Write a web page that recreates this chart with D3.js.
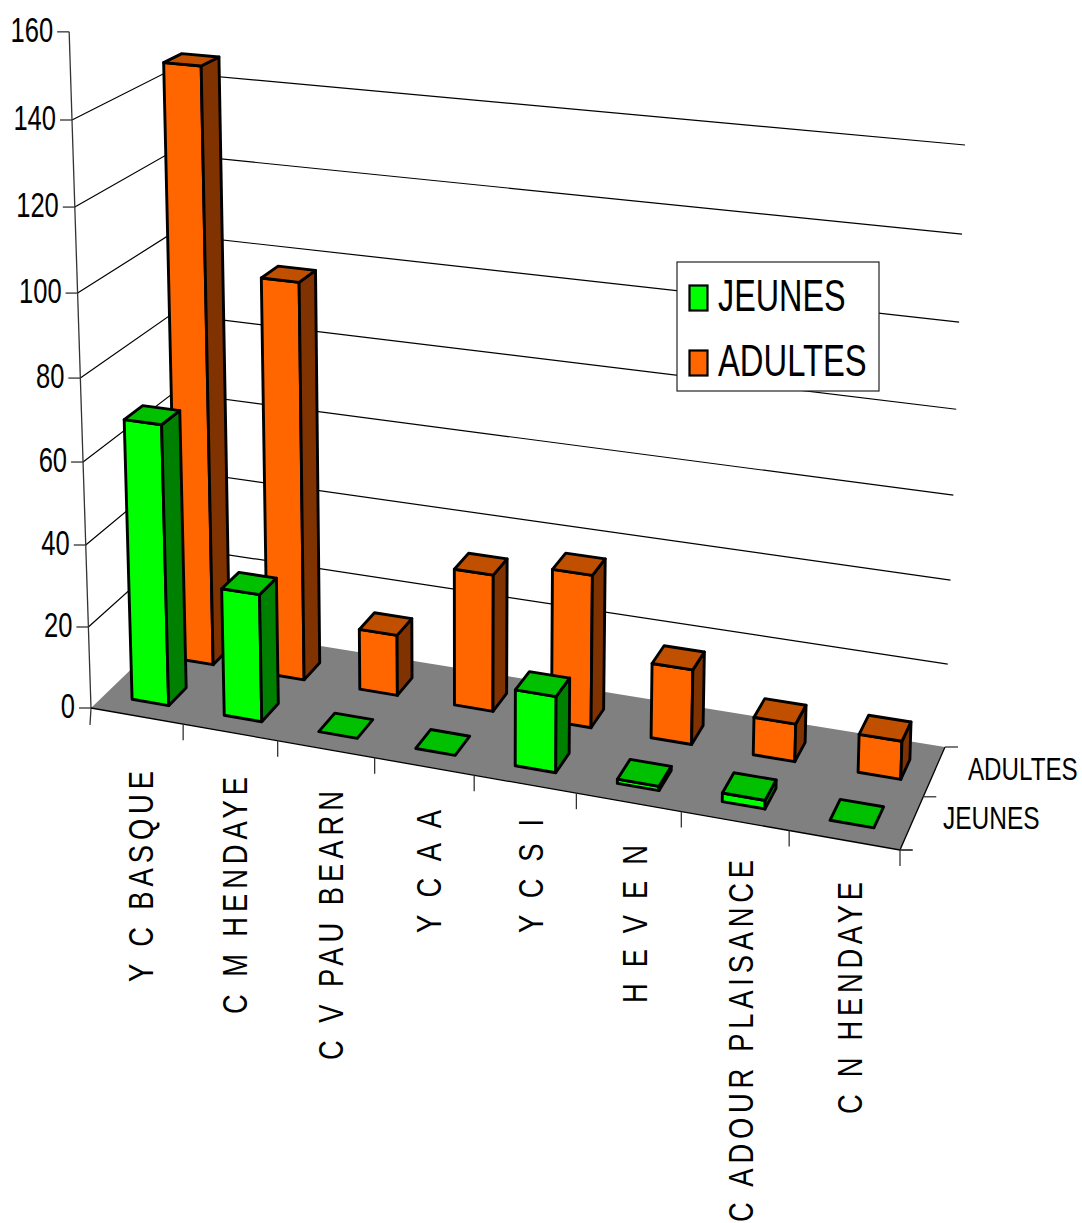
<!DOCTYPE html>
<html><head><meta charset="utf-8">
<style>html,body{margin:0;padding:0;background:#fff}svg{display:block}text{font-family:"Liberation Sans",Arial,sans-serif;fill:#000}</style>
<script src="https://cdn.jsdelivr.net/npm/d3@7"></script>
</head><body><svg id="c" width="1082" height="1223"></svg>
<script>
const categories = ["Y C BASQUE","C M HENDAYE","C V PAU BEARN","Y C A A","Y C S I","H E V E N","C ADOUR PLAISANCE","C N HENDAYE"];
const seriesNames = ["JEUNES","ADULTES"];
const jeunes  = [68.5, 31, 0, 0, 18, 1, 2, 0];
const adultes = [147, 98, 15, 33.5, 37, 18, 9, 9];
const yTicks = [0,20,40,60,80,100,120,140,160];
const front = {JEUNES:"#00FF00",ADULTES:"#FF6600"};
const topc  = {JEUNES:"#00C000",ADULTES:"#C05000"};
const side  = {JEUNES:"#008000",ADULTES:"#803300"};
const labelBaseX=[153,246.5,343,441,543,647,753,862];
const labelTop=[771,777,791,810,819,845,860,882];
const labelBottom=[982,1014,1060,933,933,1003,1222,1114];
const barU={JEUNES:[0.3,0.7],ADULTES:[0.34,0.74]};
const barV={JEUNES:[0.3,0.7],ADULTES:[0.25,0.65]};

function homography(q){
  const [[x0,y0],[x1,y1],[x2,y2],[x3,y3]]=q;
  const dx1=x1-x2,dx2=x3-x2,dx3=x0-x1+x2-x3,dy1=y1-y2,dy2=y3-y2,dy3=y0-y1+y2-y3;
  const d=dx1*dy2-dx2*dy1,g=(dx3*dy2-dx2*dy3)/d,h=(dx1*dy3-dx3*dy1)/d;
  const a=x1-x0+g*x1,b=x3-x0+h*x3,e=y1-y0+g*y1,f=y3-y0+h*y3;
  return (u,v)=>{const w=g*u+h*v+1;return [(a*u+b*v+x0)/w,(e*u+f*v+y0)/w];};
}
const floorH = homography([[91,708],[900,850],[945,747],[179,623]]);
const topH   = homography([[72,120],[918,203.5],[965,145],[167,72]]);
const tScale = d3.scaleLinear().domain([0,140]).range([0,1]);
const persp = t => t/(t+(1-t)*1.043);
const uScale = d3.scaleBand().domain(categories).range([0,1]);
const vScale = d3.scaleBand().domain(seriesNames).range([0,1]);
function P(u,v,h){
  const a=floorH(u,v),b=topH(u,v),s=persp(tScale(h));
  return [a[0]+(b[0]-a[0])*s,a[1]+(b[1]-a[1])*s];
}
const svg=d3.select("#c");
const line=d3.line();
function hText(g,x,y,str,size,sx,anchor){
  return g.append("text").attr("transform",`translate(${x},${y}) scale(${sx},1)`)
    .attr("font-size",size).attr("text-anchor",anchor||"start").text(str);
}
const gGrid=svg.append("g").attr("fill","none").attr("stroke","#000").attr("stroke-width",1.2);
yTicks.filter(t=>t>0&&t<160).forEach(t=>{
  gGrid.append("path").attr("d",line([P(0,0,t),P(0,1,t),P(1,1,t)]));
});
svg.append("path").attr("d",line([P(0,0,0),P(1,0,0),P(1,1,0),P(0,1,0)])+"Z").attr("fill","#808080");
const gAx=svg.append("g").attr("fill","none").attr("stroke","#333").attr("stroke-width",1.3);
gAx.append("path").attr("d",line([P(0,0,160),P(0,0,0)]));
gAx.append("path").attr("d",line([P(0,0,0),[P(0,0,0)[0]-1,P(0,0,0)[1]+17]]));
gAx.append("path").attr("d",line([P(0,0,0),P(1,0,0)])).attr("stroke","#000");
gAx.append("path").attr("d",line([P(1,0,0),P(1,1,0)])).attr("stroke","#000");
yTicks.forEach(t=>{const p=P(0,0,t);
  gAx.append("path").attr("d",line([p,[p[0]-12,p[1]]]));
  hText(svg,p[0]-16,p[1]+10,String(t),35,0.73,"end");
});
categories.forEach((c,i)=>{
  const p=P((i+1)/categories.length,0,0);
  gAx.append("path").attr("d",line([p,[p[0],p[1]+16]]));
});
const last=P(1,0,0); gAx.append("path").attr("d",line([last,[last[0]+12,last[1]]]));
[0,0.5,1].forEach(v=>{const p=P(1,v,0); gAx.append("path").attr("d",line([p,[p[0]+13,p[1]]]));});
hText(svg,968,780,"ADULTES",31,0.78);
hText(svg,943,829,"JEUNES",31,0.79);
const labelScaleX=0.76;
categories.forEach((c,i)=>{
  svg.append("text").attr("transform",`translate(${labelBaseX[i]},${labelBottom[i]}) rotate(-90) scale(${labelScaleX},1)`)
   .attr("font-size",36).attr("textLength",(labelBottom[i]-labelTop[i])/labelScaleX).attr("lengthAdjust","spacing").text(c);
});
function bar(s,i,val){
  const ub=uScale(categories[i]),uw=uScale.bandwidth(),vb=vScale(s),vw=vScale.bandwidth();
  const u0=ub+uw*barU[s][0],u1=ub+uw*barU[s][1],v0=vb+vw*barV[s][0],v1=vb+vw*barV[s][1];
  const g=svg.append("g").attr("stroke","#000").attr("stroke-width",2.9).attr("stroke-linejoin","round");
  const face=(pts,fill)=>g.append("path").attr("d",line(pts)+"Z").attr("fill",fill);
  if(val>0){
    face([P(u0,v0,0),P(u1,v0,0),P(u1,v0,val),P(u0,v0,val)],front[s]);
    face([P(u1,v0,0),P(u1,v1,0),P(u1,v1,val),P(u1,v0,val)],side[s]);
  }
  face([P(u0,v0,val),P(u1,v0,val),P(u1,v1,val),P(u0,v1,val)],topc[s]);
}
categories.forEach((c,i)=>bar("ADULTES",i,adultes[i]));
categories.forEach((c,i)=>bar("JEUNES",i,jeunes[i]));
const lg=svg.append("g");
lg.append("rect").attr("x",677).attr("y",262).attr("width",202).attr("height",129).attr("fill","#fff").attr("stroke","#222").attr("stroke-width",1.2);
[[285,"JEUNES",311],[350,"ADULTES",375.5]].forEach(([y,n,ty])=>{
  lg.append("rect").attr("x",689.5).attr("y",y+.5).attr("width",18).attr("height",25).attr("fill",front[n]).attr("stroke","#000").attr("stroke-width",2.2);
  hText(lg,718,ty,n,44,n==="ADULTES"?0.745:0.735);
});
</script></body></html>
